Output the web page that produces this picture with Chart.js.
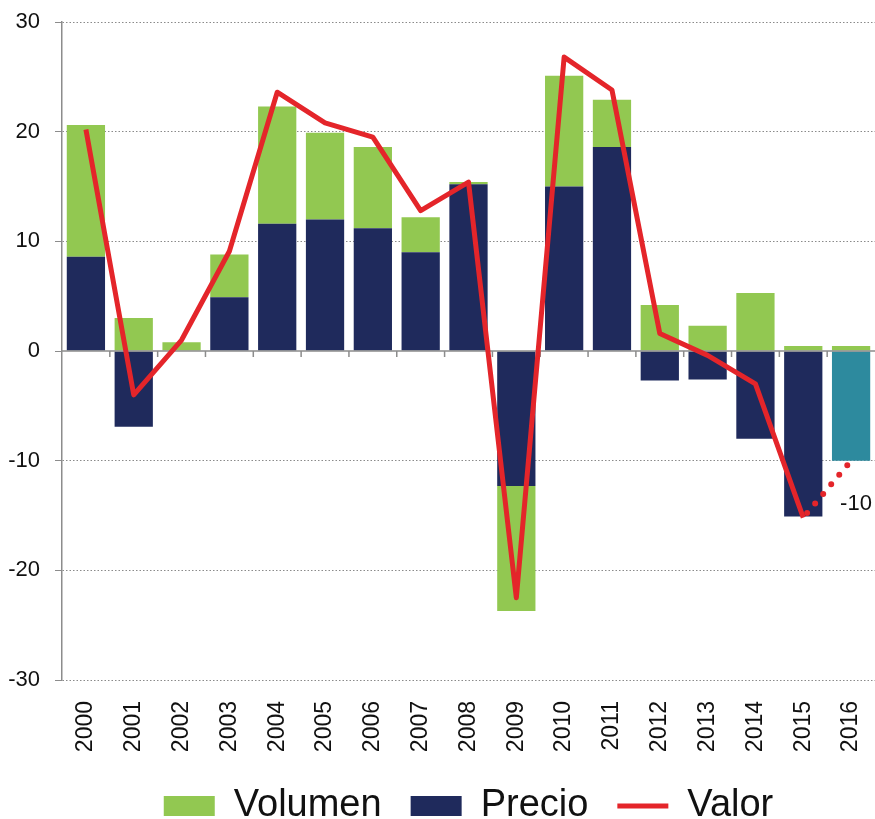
<!DOCTYPE html>
<html>
<head>
<meta charset="utf-8">
<script src="https://cdn.jsdelivr.net/npm/chart.js@4"></script>
<style>
html,body{margin:0;padding:0;background:#fff;overflow:hidden;}
canvas{display:block;}
</style>
</head>
<body>
<canvas id="c" width="875" height="819"></canvas>
<script>
const years = ['2000','2001','2002','2003','2004','2005','2006','2007','2008','2009','2010','2011','2012','2013','2014','2015','2016'];
const precio = [8.6, -6.9, 0, 4.9, 11.6, 12.0, 11.2, 9.0, 15.2, -12.3, 15.0, 18.6, -2.7, -2.6, -8.0, -15.1, null];
const volumen = [12.0, 3.0, 0.8, 3.9, 10.7, 7.9, 7.4, 3.2, 0.2, -11.4, 10.1, 4.3, 4.2, 2.3, 5.3, 0.45, 0.45];
const prevision2016 = [null, null, null, null, null, null, null, null, null, null, null, null, null, null, null, null, -10];
const valor = [20.2, -4.0, 1.0, 9.1, 23.6, 20.8, 19.5, 12.8, 15.4, -22.5, 26.8, 23.8, 1.6, -0.4, -3.0, -15.2, null];
const valorEstimado = [null, null, null, null, null, null, null, null, null, null, null, null, null, null, null, -15.2, -10];
const yTicks = [-30, -20, -10, 0, 10, 20, 30];
const estimadoLabel = '-10';

const FONT = "'Liberation Sans', Arial, sans-serif";
const NAVY = '#1F2A5C', GREEN = '#92C851', TEAL = '#2D8A9E', RED = '#E4252A', AXIS = '#8C8C8C';

const zeroAxisPlugin = {
  id: 'zeroAxis',
  beforeDatasetDraw(chart, args) {
    if (args.index !== 3) return;
    const x = chart.scales.x, y = chart.scales.y, ctx = chart.ctx;
    const y0 = y.getPixelForValue(0);
    ctx.save();
    ctx.strokeStyle = AXIS;
    ctx.lineWidth = 1.5;
    ctx.beginPath();
    ctx.moveTo(chart.chartArea.left, y0);
    ctx.lineTo(chart.chartArea.right, y0);
    const half = (x.getPixelForValue(1) - x.getPixelForValue(0)) / 2;
    for (let i = 1; i < years.length; i++) {
      const bx = x.getPixelForValue(i) - half;
      ctx.moveTo(bx, y0);
      ctx.lineTo(bx, y0 + 6);
    }
    ctx.stroke();
    ctx.restore();
  },
  afterDatasetsDraw(chart) {
    const meta = chart.getDatasetMeta(2);
    const el = meta.data[16];
    if (!el) return;
    const ctx = chart.ctx;
    ctx.save();
    ctx.fillStyle = '#111';
    ctx.font = "22px " + FONT;
    ctx.textAlign = 'left';
    ctx.textBaseline = 'middle';
    ctx.fillText(estimadoLabel, el.x - 11, el.y + 43);
    ctx.restore();
  }
};

const legendOrder = {1: 0, 0: 1, 3: 2};

new Chart(document.getElementById('c'), {
  data: {
    labels: years,
    datasets: [
      { type: 'bar', label: 'Precio', data: precio, backgroundColor: NAVY, borderWidth: 0, stack: 'bars', order: 2, pointStyle: 'rect' },
      { type: 'bar', label: 'Volumen', data: volumen, backgroundColor: GREEN, borderWidth: 0, stack: 'bars', order: 2, pointStyle: 'rect' },
      { type: 'bar', label: 'Previsión', data: prevision2016, backgroundColor: TEAL, borderWidth: 0, stack: 'bars', order: 2, pointStyle: 'rect' },
      { type: 'line', label: 'Valor', data: valor, borderColor: RED, backgroundColor: RED, borderWidth: 5, pointRadius: 0, tension: 0, stack: 'valor', order: 1, pointStyle: 'line', borderJoinStyle: 'round' },
      { type: 'line', label: 'Valor estimado', data: valorEstimado, borderColor: RED, backgroundColor: RED, borderWidth: 6, borderDash: [0, 12.5], borderDashOffset: -6, borderCapStyle: 'round', pointRadius: 0, tension: 0, stack: 'valor2', order: 1, pointStyle: 'line' }
    ]
  },
  options: {
    responsive: false,
    devicePixelRatio: 1,
    animation: false,
    layout: { padding: { left: 7, top: 22, right: 0, bottom: -16 } },
    datasets: { bar: { categoryPercentage: 1, barPercentage: 0.8 } },
    scales: {
      x: {
        stacked: true,
        grid: { display: false, drawTicks: false },
        border: { display: false },
        ticks: { autoSkip: false, maxRotation: 90, minRotation: 90, padding: 21, color: '#111', font: { family: FONT, size: 23 } },
        afterFit(scale) { scale.paddingLeft = 0; scale.paddingRight = 0; scale.height = 78; }
      },
      y: {
        stacked: true,
        min: -30, max: 30,
        afterBuildTicks(scale) { scale.ticks = yTicks.map(v => ({ value: v })); },
        afterFit(scale) { scale.paddingTop = 0; scale.paddingBottom = 0; scale.width = 55; },
        grid: {
          color: ctx => (ctx.tick && ctx.tick.value === 0) ? 'rgba(0,0,0,0)' : '#8a8a8a',
          tickColor: AXIS, tickLength: 7, lineWidth: 1
        },
        border: { display: true, color: AXIS, width: 1.5, dash: [1.5, 2] },
        ticks: { padding: 15, color: '#111', font: { family: FONT, size: 22 } }
      }
    },
    plugins: {
      tooltip: { enabled: false },
      legend: {
        position: 'bottom',
        fullSize: false,
        labels: {
          usePointStyle: true,
          pointStyleWidth: 51,
          boxHeight: 20,
          padding: 29,
          color: '#111',
          font: { family: FONT, size: 38 },
          filter: item => item.datasetIndex in legendOrder,
          sort: (a, b) => legendOrder[a.datasetIndex] - legendOrder[b.datasetIndex]
        }
      }
    }
  },
  plugins: [zeroAxisPlugin]
});
</script>
</body>
</html>
